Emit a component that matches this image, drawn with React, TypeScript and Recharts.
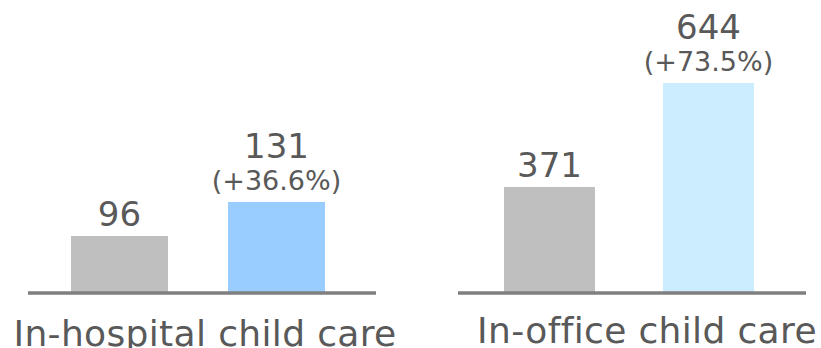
import { BarChart, Bar, XAxis, YAxis, LabelList } from 'recharts';

// categories and values
const groups = ['In-hospital child care', 'In-office child care'];
const before = [96, 371];
const after = [131, 644];
const changes = ['(+36.6%)', '(+73.5%)'];

const FONT = "'DejaVu Sans', sans-serif";
const TEXT = '#595959';

// per-group layout (each group has its own scale in the original)
const layouts = [
  {
    width: 410, margin: { top: 10, right: 34, bottom: 0, left: 28 },
    domain: [37.3, 328.6], barSize: 97, barGap: 60, padRight: 8,
    colors: ['#BFBFBF', '#99CCFF'], labelDx: 7, labelDy: 45,
  },
  {
    width: 411, margin: { top: 10, right: 15, bottom: 0, left: 48 },
    domain: [92.75, 835.6], barSize: 91, barGap: 68, padRight: 6,
    colors: ['#BFBFBF', '#CCECFF'], labelDx: 18, labelDy: 42,
  },
];

function GroupChart({ i }: { i: number }) {
  const l = layouts[i];
  const data = [{ group: groups[i], before: before[i], after: after[i], change: changes[i] }];

  const beforeLabel = (p: any) => (
    <text x={p.x + p.width / 2} y={p.y - 10} textAnchor="middle"
      fontSize={34} fill={TEXT} fontFamily={FONT}>{p.value}</text>
  );

  const afterLabel = (p: any) => (
    <g>
      <text x={p.x + p.width / 2} y={p.y - 44} textAnchor="middle"
        fontSize={34} fill={TEXT} fontFamily={FONT}>{p.value}</text>
      <text x={p.x + p.width / 2} y={p.y - 12} textAnchor="middle"
        fontSize={27} fill={TEXT} fontFamily={FONT}>{data[p.index ?? 0].change}</text>
    </g>
  );

  const tick = (p: any) => (
    <text x={p.x + l.labelDx} y={p.y + l.labelDy} textAnchor="middle"
      fontSize={36} letterSpacing={0.35} fill={TEXT} fontFamily={FONT}>
      {p.payload.value}
    </text>
  );

  return (
    <BarChart width={l.width} height={348} data={data} margin={l.margin}
      barGap={l.barGap}>
      <XAxis dataKey="group" height={55} tickLine={false} tick={tick}
        axisLine={{ stroke: '#7F7F7F', strokeWidth: 3.5 }}
        padding={{ left: 0, right: l.padRight }} interval={0} />
      <YAxis hide type="number" domain={l.domain} allowDataOverflow />
      <Bar dataKey="before" fill={l.colors[0]} barSize={l.barSize} isAnimationActive={false}>
        <LabelList dataKey="before" content={beforeLabel} />
      </Bar>
      <Bar dataKey="after" fill={l.colors[1]} barSize={l.barSize} isAnimationActive={false}>
        <LabelList dataKey="after" content={afterLabel} />
      </Bar>
    </BarChart>
  );
}

export default function App() {
  return (
    <div style={{ position: 'absolute', left: 0, top: 0, width: 821, height: 348,
      display: 'flex', background: '#fff', overflow: 'hidden' }}>
      <GroupChart i={0} />
      <GroupChart i={1} />
    </div>
  );
}
